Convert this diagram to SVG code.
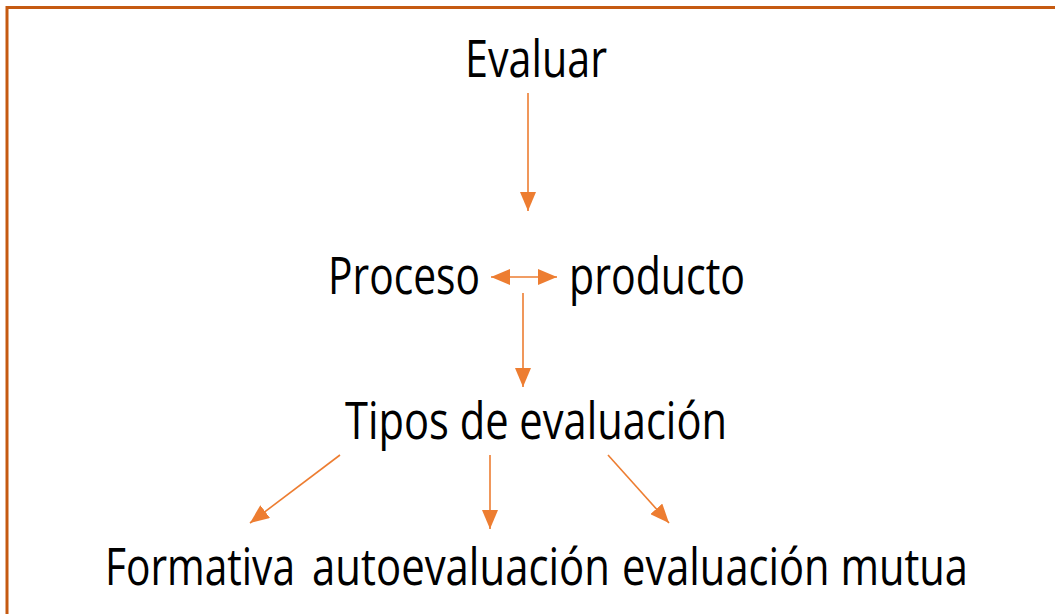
<svg xmlns="http://www.w3.org/2000/svg" width="1055" height="614" viewBox="0 0 1055 614">
<style>
.t{font-family:"Open Sans","Liberation Sans",sans-serif;font-size:52px;fill:#000}
.c{stroke:#ED7D31;stroke-width:1.6;fill:none}
.b{stroke:#C55A11;stroke-width:3;fill:none}
</style>
<defs>
<marker id="ah" viewBox="0 0 19 16" refX="19" refY="8" markerWidth="19" markerHeight="16" markerUnits="userSpaceOnUse" orient="auto-start-reverse">
<path d="M0,0 L19,8 L0,16 z" fill="#ED7D31"/>
</marker>
</defs>
<rect width="1055" height="614" fill="#fff"/>
<path class="b" d="M7,614 V7.5 H1055"/>
<g id="n-evaluar"><text class="t" transform="translate(465,77) scale(0.8,1)" x="0" y="0" textLength="177.5" lengthAdjust="spacingAndGlyphs">Evaluar</text></g>
<g id="n-proceso"><text class="t" transform="translate(328,294) scale(0.8,1)" x="0" y="0" textLength="190" lengthAdjust="spacingAndGlyphs">Proceso</text></g>
<g id="n-producto"><text class="t" transform="translate(569,294) scale(0.8,1)" x="0" y="0" textLength="220" lengthAdjust="spacingAndGlyphs">producto</text></g>
<g id="n-tipos"><text class="t" transform="translate(345,439) scale(0.8,1)" x="0" y="0" textLength="477.5" lengthAdjust="spacingAndGlyphs">Tipos de evaluación</text></g>
<g id="n-formativa"><text class="t" transform="translate(105,585) scale(0.8,1)" x="0" y="0" textLength="237.5" lengthAdjust="spacingAndGlyphs">Formativa</text></g>
<g id="n-autoevaluacion"><text class="t" transform="translate(312,585) scale(0.8,1)" x="0" y="0" textLength="372.5" lengthAdjust="spacingAndGlyphs">autoevaluación</text></g>
<g id="n-mutua"><text class="t" transform="translate(622,585) scale(0.8,1)" x="0" y="0" textLength="432.5" lengthAdjust="spacingAndGlyphs">evaluación mutua</text></g>
<g id="connectors">
<line class="c" x1="528" y1="93" x2="528" y2="211" marker-end="url(#ah)"/>
<line class="c" x1="491" y1="277" x2="557" y2="277" marker-start="url(#ah)" marker-end="url(#ah)"/>
<line class="c" x1="523" y1="293" x2="523" y2="387" marker-end="url(#ah)"/>
<line class="c" x1="340" y1="455" x2="250" y2="523" marker-end="url(#ah)"/>
<line class="c" x1="490" y1="455" x2="490" y2="529" marker-end="url(#ah)"/>
<line class="c" x1="608" y1="455" x2="669" y2="523" marker-end="url(#ah)"/>
</g>
</svg>
